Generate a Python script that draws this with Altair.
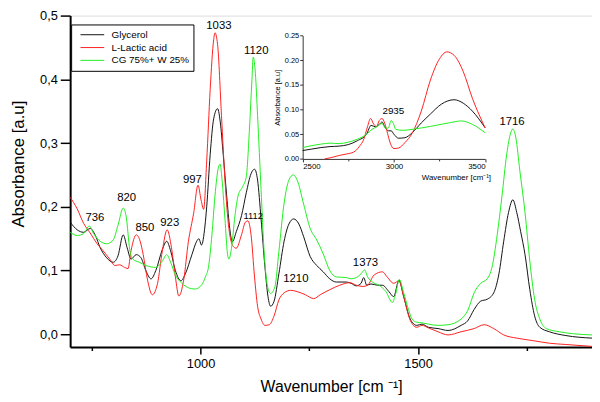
import altair as alt
import pandas as pd

SERIES = ["Glycerol", "L-Lactic acid", "CG 75%+ W 25%"]
COLORS = ["#111111", "#ff1f1f", "#1fef1f"]

# ---------------- main spectrum (700-1900 cm-1) ----------------
GLY_X = [701, 716, 731, 746, 758, 769, 784, 799, 810, 822, 831, 840, 852, 863, 874, 886, 897, 912, 922, 931,
         942, 955, 965, 980, 991, 996, 1002, 1010, 1014, 1022, 1030, 1039, 1046, 1052, 1060, 1067, 1073, 1082,
         1094, 1105, 1116, 1124, 1131, 1139, 1148, 1155, 1161, 1169, 1180, 1192, 1203, 1214, 1226, 1237, 1252,
         1267, 1282, 1297, 1312, 1335, 1346, 1358, 1369, 1375, 1382, 1392, 1407, 1418, 1433, 1444, 1456, 1467,
         1482, 1497, 1509, 1524, 1546, 1569, 1599, 1614, 1629, 1644, 1659, 1674, 1686, 1697, 1708, 1718, 1727,
         1736, 1746, 1757, 1768, 1780, 1802, 1840, 1900]
GLY_Y = [0.175, 0.164, 0.160, 0.166, 0.155, 0.136, 0.120, 0.113, 0.123, 0.156, 0.136, 0.118, 0.125, 0.120, 0.100,
         0.087, 0.100, 0.133, 0.146, 0.131, 0.100, 0.084, 0.095, 0.125, 0.146, 0.150, 0.140, 0.170, 0.200, 0.282,
         0.338, 0.354, 0.328, 0.282, 0.217, 0.166, 0.145, 0.161, 0.186, 0.222, 0.252, 0.259, 0.242, 0.181, 0.105,
         0.059, 0.044, 0.052, 0.095, 0.146, 0.173, 0.181, 0.173, 0.153, 0.122, 0.108, 0.098, 0.087, 0.082, 0.082,
         0.080, 0.076, 0.080, 0.089, 0.077, 0.079, 0.077, 0.077, 0.067, 0.059, 0.085, 0.059, 0.024, 0.014, 0.016,
         0.011, 0.009, 0.006, 0.014, 0.021, 0.039, 0.052, 0.055, 0.065, 0.095, 0.146, 0.191, 0.211, 0.191, 0.161,
         0.125, 0.070, 0.029, 0.011, 0.004, -0.002, -0.006]

LAC_X = [700, 716, 731, 746, 761, 776, 791, 803, 814, 825, 833, 840, 852, 861, 868, 878, 889, 901, 912, 923, 933,
         942, 950, 961, 972, 984, 994, 1001, 1007, 1014, 1022, 1030, 1033, 1039, 1048, 1056, 1065, 1075, 1082,
         1094, 1103, 1109, 1116, 1124, 1131, 1139, 1148, 1158, 1169, 1180, 1192, 1207, 1222, 1241, 1260, 1275,
         1297, 1320, 1343, 1358, 1373, 1384, 1399, 1418, 1429, 1444, 1456, 1467, 1482, 1497, 1509, 1524, 1546,
         1569, 1599, 1629, 1652, 1674, 1697, 1727, 1765, 1802, 1840, 1900]
LAC_Y = [0.215, 0.197, 0.174, 0.159, 0.143, 0.131, 0.118, 0.108, 0.109, 0.105, 0.103, 0.131, 0.156, 0.146, 0.125,
         0.085, 0.062, 0.080, 0.131, 0.164, 0.136, 0.090, 0.060, 0.085, 0.146, 0.190, 0.234, 0.211, 0.196, 0.272,
         0.384, 0.462, 0.473, 0.455, 0.343, 0.242, 0.166, 0.138, 0.135, 0.156, 0.176, 0.178, 0.156, 0.090, 0.044,
         0.024, 0.014, 0.015, 0.029, 0.054, 0.065, 0.069, 0.067, 0.062, 0.056, 0.062, 0.070, 0.077, 0.081, 0.077,
         0.075, 0.077, 0.093, 0.098, 0.090, 0.080, 0.084, 0.059, 0.022, 0.011, 0.014, 0.010, 0.004, -0.001, 0.004,
         0.009, 0.015, 0.009, -0.001, -0.006, -0.010, -0.014, -0.016, -0.019]

CG_X = [700, 716, 731, 744, 754, 769, 784, 799, 810, 822, 829, 837, 844, 859, 874, 897, 912, 922, 931, 942, 957,
        972, 987, 1003, 1011, 1018, 1026, 1033, 1041, 1045, 1048, 1056, 1062, 1065, 1071, 1079, 1086, 1097, 1105,
        1112, 1118, 1121, 1126, 1131, 1139, 1146, 1154, 1161, 1171, 1180, 1192, 1203, 1213, 1222, 1237, 1252,
        1267, 1282, 1297, 1312, 1335, 1346, 1358, 1369, 1377, 1384, 1395, 1410, 1426, 1441, 1448, 1457, 1467,
        1478, 1486, 1497, 1509, 1524, 1546, 1569, 1599, 1614, 1629, 1644, 1659, 1670, 1682, 1693, 1704, 1713,
        1718, 1725, 1734, 1746, 1757, 1768, 1780, 1795, 1825, 1855, 1900]
CG_Y = [0.160, 0.155, 0.158, 0.170, 0.158, 0.146, 0.142, 0.148, 0.171, 0.198, 0.184, 0.133, 0.118, 0.113, 0.108,
        0.105, 0.115, 0.125, 0.113, 0.093, 0.080, 0.073, 0.071, 0.078, 0.090, 0.105, 0.156, 0.217, 0.262, 0.267,
        0.252, 0.181, 0.125, 0.118, 0.135, 0.186, 0.217, 0.232, 0.247, 0.318, 0.399, 0.435, 0.409, 0.343, 0.227,
        0.130, 0.075, 0.064, 0.075, 0.130, 0.206, 0.242, 0.250, 0.242, 0.204, 0.166, 0.148, 0.126, 0.100, 0.090,
        0.089, 0.087, 0.089, 0.095, 0.101, 0.090, 0.082, 0.077, 0.067, 0.050, 0.062, 0.086, 0.065, 0.039, 0.024,
        0.019, 0.018, 0.016, 0.014, 0.015, 0.024, 0.037, 0.065, 0.080, 0.087, 0.105, 0.156, 0.217, 0.283, 0.316,
        0.322, 0.308, 0.257, 0.191, 0.115, 0.055, 0.024, 0.009, 0.004, 0.001, -0.001]

# ---------------- inset (2500-3500 cm-1) ----------------
GLY_IX = [2500, 2550, 2600, 2650, 2700, 2750, 2800, 2850, 2875, 2900, 2920, 2935, 2950, 2970, 2985, 3000, 3025,
          3060, 3100, 3150, 3200, 3260, 3330, 3380, 3430, 3500]
GLY_IY = [0.017, 0.020, 0.023, 0.025, 0.026, 0.029, 0.037, 0.050, 0.068, 0.065, 0.070, 0.075, 0.065, 0.057, 0.057,
          0.050, 0.042, 0.043, 0.053, 0.073, 0.091, 0.111, 0.120, 0.113, 0.097, 0.063]
LAC_IX = [2620, 2660, 2700, 2740, 2780, 2810, 2835, 2855, 2872, 2890, 2905, 2920, 2935, 2950, 2965, 2980, 3000,
          3025, 3060, 3100, 3150, 3200, 3250, 3290, 3330, 3380, 3430, 3470, 3500]
LAC_IY = [0.000, 0.003, 0.007, 0.010, 0.014, 0.025, 0.040, 0.065, 0.082, 0.070, 0.066, 0.078, 0.082, 0.072, 0.052,
          0.032, 0.021, 0.022, 0.033, 0.052, 0.097, 0.160, 0.203, 0.217, 0.210, 0.177, 0.123, 0.087, 0.063]
CG_IX = [2500, 2550, 2600, 2650, 2700, 2750, 2800, 2850, 2880, 2910, 2935, 2955, 2970, 2985, 2997, 3010, 3050,
         3100, 3200, 3300, 3370, 3430, 3500]
CG_IY = [0.023, 0.027, 0.030, 0.032, 0.031, 0.034, 0.040, 0.050, 0.060, 0.066, 0.072, 0.062, 0.063, 0.078, 0.072,
         0.060, 0.058, 0.060, 0.066, 0.073, 0.077, 0.070, 0.053]

# ---------------- peak annotations ----------------
PEAK_TEXT = ["736", "820", "850", "923", "997", "1033", "1120", "1210", "1373", "1716"]
PEAK_X = [757, 830, 872, 929, 981, 1042, 1128, 1219, 1379, 1716]
PEAK_Y = [0.182, 0.2135, 0.166, 0.175, 0.242, 0.483, 0.4445, 0.0866, 0.112, 0.333]
SMALL_TEXT = ["1112"]
SMALL_X = [1121]
SMALL_Y = [0.185]
INSET_TEXT = ["2935"]
INSET_X = [2997]
INSET_Y = [0.097]

MAIN_Y_TICKS = [0, 0.05, 0.1, 0.15, 0.2, 0.25, 0.3, 0.35, 0.4, 0.45, 0.5]
MAIN_X_TICKS = [750, 1000, 1250, 1500, 1750]
INSET_Y_TICKS = [0, 0.025, 0.05, 0.075, 0.1, 0.125, 0.15, 0.175, 0.2, 0.225, 0.25]
INSET_X_TICKS = [2500, 2750, 3000, 3250, 3500]

FONT = "Liberation Sans"
W, H = 529, 336
INSET_XR = [235.7, 420.7]
INSET_YR = [145.3, 20.3]


def frame(xs, ys, name):
    return pd.DataFrame({"wn": xs, "ab": ys, "series": name})


main_df = pd.concat([frame(GLY_X, GLY_Y, SERIES[0]), frame(LAC_X, LAC_Y, SERIES[1]),
                     frame(CG_X, CG_Y, SERIES[2])], ignore_index=True)
inset_df = pd.concat([frame(GLY_IX, GLY_IY, SERIES[0]), frame(LAC_IX, LAC_IY, SERIES[1]),
                      frame(CG_IX, CG_IY, SERIES[2])], ignore_index=True)
peak_df = pd.DataFrame({"wn": PEAK_X, "ab": PEAK_Y, "t": PEAK_TEXT})
small_df = pd.DataFrame({"wn": SMALL_X, "ab": SMALL_Y, "t": SMALL_TEXT})
inset_lbl_df = pd.DataFrame({"wn": INSET_X, "ab": INSET_Y, "t": INSET_TEXT})

major10 = "abs(round(datum.value*100) % 10) < 0.5"
major500 = "datum.value % 500 == 0"
major5 = "abs(round(datum.value*1000) % 50) < 0.5"

main_x = alt.X("wn:Q", scale=alt.Scale(domain=[700, 1900], nice=False, zero=False),
               axis=alt.Axis(values=MAIN_X_TICKS, labelExpr=f"{major500} ? datum.label : ''",
                             format="d", grid=False, domainWidth=2, domainColor="#000",
                             tickColor="#000", tickWidth=1.5,
                             tickSize={"condition": {"test": major500, "value": 7}, "value": 3.5},
                             labelFontSize=13, labelFont=FONT, labelColor="#000", labelPadding=4,
                             title="Wavenumber [cm   \u207b\u00b9]", titleFontSize=16, titleFont=FONT,
                             titleFontWeight="normal", titleColor="#000", titlePadding=8))
main_y = alt.Y("ab:Q", scale=alt.Scale(domain=[-0.02, 0.5], nice=False, zero=False),
               axis=alt.Axis(values=MAIN_Y_TICKS,
                             labelExpr=f"{major10} ? replace(format(datum.value, '.1f'), '.', ',') : ''",
                             grid=False, domainWidth=2, domainColor="#000", tickColor="#000", tickWidth=1.5,
                             tickSize={"condition": {"test": major10, "value": 10}, "value": 4},
                             labelFontSize=13, labelFont=FONT, labelColor="#000", labelPadding=3,
                             title="Absorbance [a.u]", titleFontSize=17, titleFont=FONT,
                             titleFontWeight="normal", titleColor="#000", titlePadding=12, titleY=150))

color = alt.Color("series:N", scale=alt.Scale(domain=SERIES, range=COLORS),
                  legend=alt.Legend(title=None, orient="none", legendX=1, legendY=9, direction="vertical",
                                    symbolType="stroke", symbolSize=576, symbolStrokeWidth=1,
                                    symbolOffset=5, clipHeight=12.8, rowPadding=0,
                                    labelFontSize=10, labelFont=FONT, labelColor="#000", labelOffset=7,
                                    padding=4, strokeColor="#000", fillColor="#fff"))

main_lines = alt.Chart(main_df).mark_line(strokeWidth=1, interpolate="monotone", clip=True).encode(
    x=main_x, y=main_y, color=color, order="wn:Q")
main_text = alt.Chart(peak_df).mark_text(fontSize=11.5, font=FONT, color="#000").encode(
    x="wn:Q", y="ab:Q", text="t:N")
small_text = alt.Chart(small_df).mark_text(fontSize=9.5, font=FONT, color="#000").encode(
    x="wn:Q", y="ab:Q", text="t:N")
main = alt.layer(main_lines, main_text, small_text)

ix = alt.X("wn:Q", scale=alt.Scale(domain=[2500, 3500], range=INSET_XR, nice=False, zero=False),
           axis=alt.Axis(orient="bottom", offset=-(H - INSET_YR[0]), values=INSET_X_TICKS,
                         labelExpr=f"{major500} ? datum.label : ''", format="d", grid=False,
                         domainWidth=1, domainColor="#333", tickColor="#333", tickWidth=1,
                         tickSize={"condition": {"test": major500, "value": 3}, "value": 2},
                         labelFontSize=8, labelFont=FONT, labelColor="#000", labelPadding=1,
                         title="Wavenumber [cm\u207b\u00b9]", titleFontSize=8, titleFont=FONT,
                         titleFontWeight="normal", titleColor="#000", titlePadding=3,
                         titleX=356, titleAlign="left"))
iy = alt.Y("ab:Q", scale=alt.Scale(domain=[0, 0.25], range=INSET_YR, nice=False, zero=False),
           axis=alt.Axis(orient="left", offset=-INSET_XR[0], values=INSET_Y_TICKS,
                         labelExpr=f"{major5} ? format(datum.value, '.2f') : ''", grid=False,
                         domainWidth=1, domainColor="#333", tickColor="#333", tickWidth=1,
                         tickSize={"condition": {"test": major5, "value": 3}, "value": 2},
                         labelFontSize=7.5, labelFont=FONT, labelColor="#000", labelPadding=1,
                         title="Absorbance [a.u]", titleFontSize=7.5, titleFont=FONT,
                         titleFontWeight="normal", titleColor="#000", titlePadding=3))

inset_lines = alt.Chart(inset_df).mark_line(strokeWidth=1, interpolate="monotone").encode(
    x=ix, y=iy, color=alt.Color("series:N", scale=alt.Scale(domain=SERIES, range=COLORS), legend=None),
    order="wn:Q")
inset_text = alt.Chart(inset_lbl_df).mark_text(fontSize=10, font=FONT, color="#000").encode(
    x=alt.X("wn:Q", scale=alt.Scale(domain=[2500, 3500], range=INSET_XR, nice=False, zero=False)),
    y=alt.Y("ab:Q", scale=alt.Scale(domain=[0, 0.25], range=INSET_YR, nice=False, zero=False)),
    text="t:N")
inset = alt.layer(inset_lines, inset_text)

chart = alt.layer(main, inset).resolve_scale(x="independent", y="independent").properties(
    width=W, height=H,
    autosize=alt.AutoSizeParams(type="none"),
    padding={"left": 63, "top": 5, "right": 0, "bottom": 52},
).configure_view(stroke=None).configure(background="white")

chart.save("out.html", embed_options={"renderer": "svg", "actions": False})
